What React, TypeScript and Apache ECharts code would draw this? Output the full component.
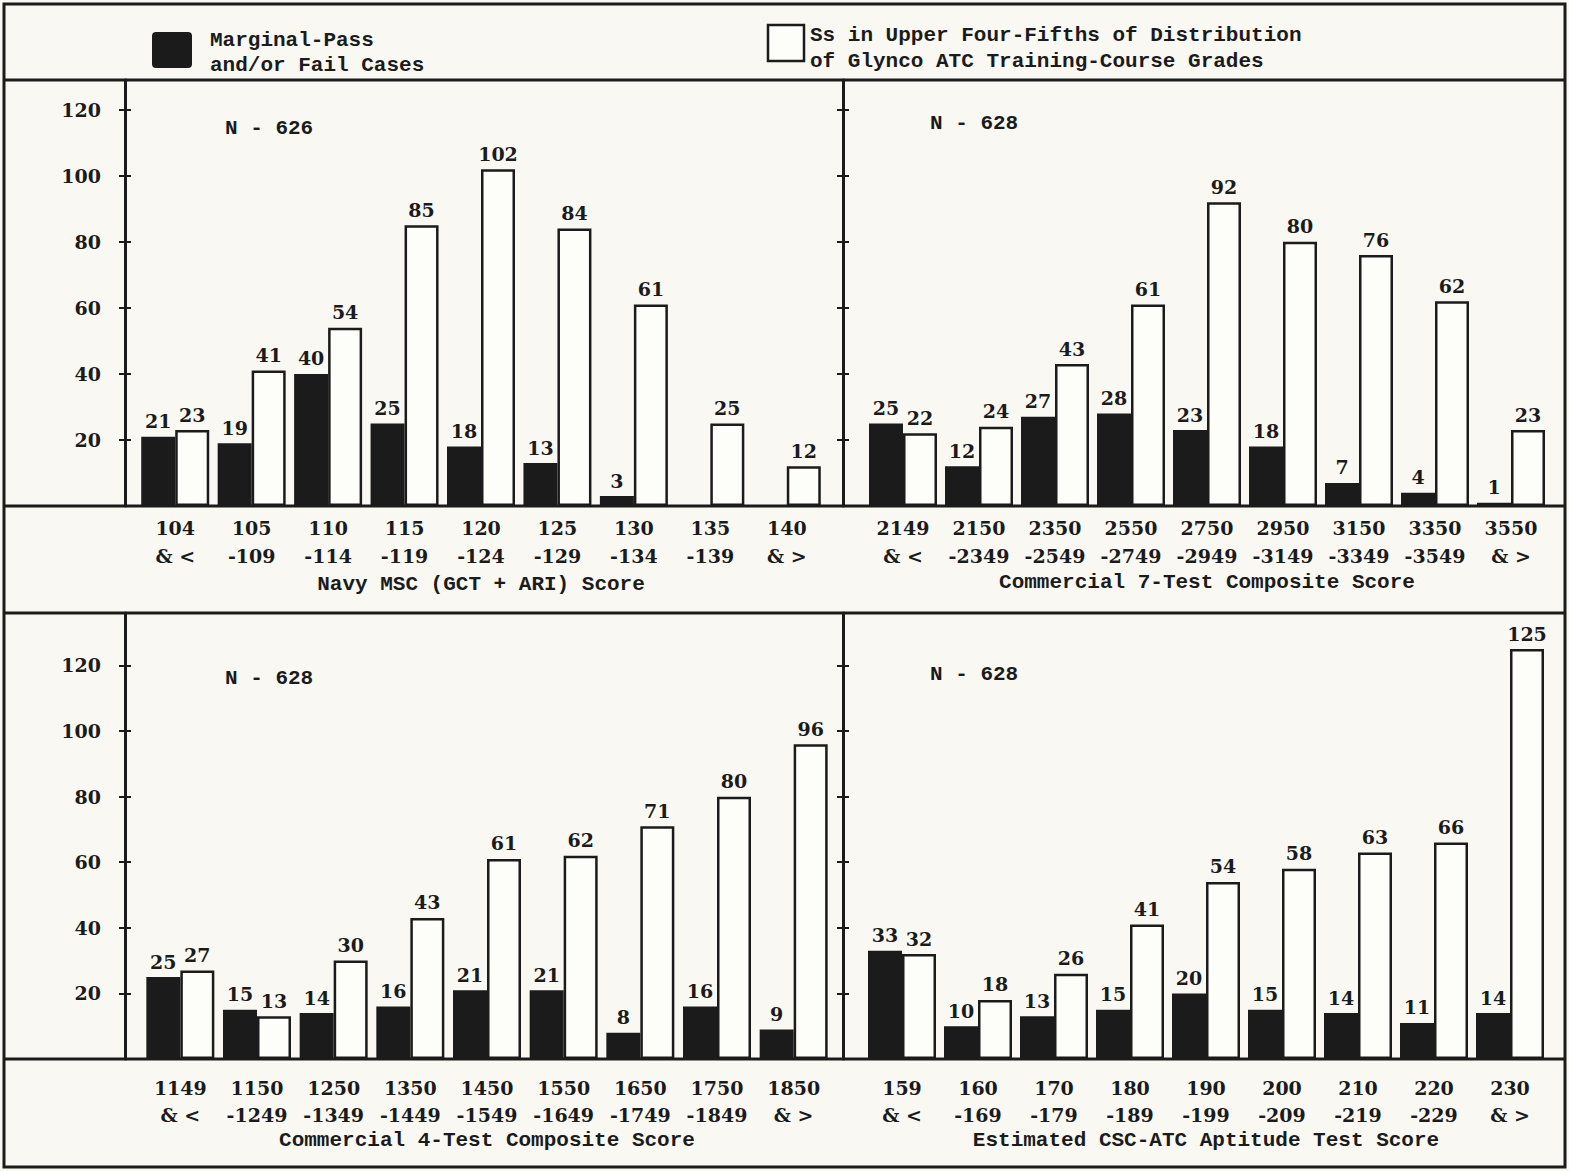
import React, { useEffect, useRef } from "react";
import * as echarts from "echarts";

// ---------- data ----------
const msCats = ["104\n& <", "105\n-109", "110\n-114", "115\n-119", "120\n-124", "125\n-129", "130\n-134", "135\n-139", "140\n& >"];
const msFail = [21, 19, 40, 25, 18, 13, 3, null, null];
const msUpper = [23, 41, 54, 85, 102, 84, 61, 25, 12];

const c7Cats = ["2149\n& <", "2150\n-2349", "2350\n-2549", "2550\n-2749", "2750\n-2949", "2950\n-3149", "3150\n-3349", "3350\n-3549", "3550\n& >"];
const c7Fail = [25, 12, 27, 28, 23, 18, 7, 4, 1];
const c7Upper = [22, 24, 43, 61, 92, 80, 76, 62, 23];

const c4Cats = ["1149\n& <", "1150\n-1249", "1250\n-1349", "1350\n-1449", "1450\n-1549", "1550\n-1649", "1650\n-1749", "1750\n-1849", "1850\n& >"];
const c4Fail = [25, 15, 14, 16, 21, 21, 8, 16, 9];
const c4Upper = [27, 13, 30, 43, 61, 62, 71, 80, 96];

const cscCats = ["159\n& <", "160\n-169", "170\n-179", "180\n-189", "190\n-199", "200\n-209", "210\n-219", "220\n-229", "230\n& >"];
const cscFail = [33, 10, 13, 15, 20, 15, 14, 11, 14];
const cscUpper = [32, 18, 26, 41, 54, 58, 63, 66, 125];

const yTickLabels = [20, 40, 60, 80, 100, 120];

const panelTitles = [
  "Navy MSC (GCT + ARI) Score",
  "Commercial 7-Test Composite Score",
  "Commercial 4-Test Composite Score",
  "Estimated CSC-ATC Aptitude Test Score",
];
const panelN = ["N - 626", "N - 628", "N - 628", "N - 628"];

const failName = "Marginal-Pass\nand/or Fail Cases";
const upperName = "Ss in Upper Four-Fifths of Distribution\nof Glynco ATC Training-Course Grades";

// ---------- styling / layout ----------
const INK = "#1b1b1b";
const PAPER = "#f9f8f3";
const FONT_NUM = '"DejaVu Serif", "Liberation Serif", serif';
const FONT_TXT = '"Liberation Mono", "DejaVu Sans Mono", monospace';
const NUM_SIZE = 19;

const panels = [
  { cats: msCats, fail: msFail, upper: msUpper, grid: { left: 137, top: 80, width: 688, height: 426 }, max: 129, offset: 12, labels: true, margin: 8, lh: 28, nameGap: 68 },
  { cats: c7Cats, fail: c7Fail, upper: c7Upper, grid: { left: 865, top: 80, width: 684, height: 426 }, max: 129, offset: 22, labels: false, margin: 8, lh: 28, nameGap: 66 },
  { cats: c4Cats, fail: c4Fail, upper: c4Upper, grid: { left: 142, top: 613, width: 690, height: 446 }, max: 136, offset: 17, labels: true, margin: 15, lh: 27, nameGap: 71 },
  { cats: cscCats, fail: cscFail, upper: cscUpper, grid: { left: 864, top: 613, width: 684, height: 446 }, max: 136, offset: 21, labels: false, margin: 15, lh: 27, nameGap: 71 },
];

const nPos = [
  { x: 225, y: 128 },
  { x: 930, y: 123 },
  { x: 225, y: 678 },
  { x: 930, y: 674 },
];

function buildOption() {
  const grid: any[] = [];
  const xAxis: any[] = [];
  const yAxis: any[] = [];
  const series: any[] = [];

  panels.forEach((p, i) => {
    grid.push({ ...p.grid, containLabel: false });
    xAxis.push({
      type: "category",
      gridIndex: i,
      data: p.cats,
      axisLine: { show: false },
      axisTick: { show: false },
      axisLabel: {
        interval: 0,
        margin: p.margin,
        fontFamily: FONT_NUM,
        fontSize: NUM_SIZE,
        fontWeight: "bold",
        color: INK,
        lineHeight: p.lh,
      },
      name: panelTitles[i],
      nameLocation: "middle",
      nameGap: p.nameGap,
      nameTextStyle: { fontFamily: FONT_TXT, fontSize: 21, fontWeight: "bold", color: INK },
    });
    const common = {
      type: "value",
      gridIndex: i,
      min: 0,
      max: p.max,
      interval: 20,
      position: "left",
      offset: p.offset,
      splitLine: { show: false },
    };
    yAxis.push({
      ...common,
      axisLine: { show: true, lineStyle: { color: INK, width: 3 } },
      axisTick: { show: true, inside: false, length: 6, lineStyle: { color: INK, width: 2 } },
      axisLabel: {
        show: p.labels,
        margin: 24,
        fontFamily: FONT_NUM,
        fontSize: NUM_SIZE,
        fontWeight: "bold",
        color: INK,
        formatter: (v: number) => (yTickLabels.indexOf(v) >= 0 ? String(v) : ""),
      },
    });
    yAxis.push({
      ...common,
      axisLine: { show: false },
      axisTick: { show: true, inside: true, length: 6, lineStyle: { color: INK, width: 2 } },
      axisLabel: { show: false },
    });
    const labelStyle = {
      show: true,
      position: "top",
      distance: 6,
      fontFamily: FONT_NUM,
      fontSize: NUM_SIZE,
      fontWeight: "bold",
      color: INK,
    };
    series.push({
      type: "bar",
      name: failName,
      xAxisIndex: i,
      yAxisIndex: i * 2,
      data: p.fail,
      barWidth: 34,
      barGap: "0%",
      itemStyle: { color: INK },
      label: labelStyle,
    });
    series.push({
      type: "bar",
      name: upperName,
      xAxisIndex: i,
      yAxisIndex: i * 2,
      data: p.upper,
      barWidth: 34,
      barGap: "0%",
      itemStyle: { color: "#fdfdf9", borderColor: INK, borderWidth: 2.5 },
      label: labelStyle,
    });
  });

  const lineStyle = { stroke: INK, lineWidth: 3 };
  const graphic: any[] = [
    { type: "rect", shape: { x: 4, y: 4, width: 1561, height: 1163 }, style: { fill: "none", stroke: INK, lineWidth: 3 }, z: 100 },
    { type: "line", shape: { x1: 4, y1: 80, x2: 1565, y2: 80 }, style: lineStyle, z: 100 },
    { type: "line", shape: { x1: 4, y1: 506, x2: 1565, y2: 506 }, style: lineStyle, z: 100 },
    { type: "line", shape: { x1: 4, y1: 613, x2: 1565, y2: 613 }, style: lineStyle, z: 100 },
    { type: "line", shape: { x1: 4, y1: 1059, x2: 1565, y2: 1059 }, style: lineStyle, z: 100 },
    // legend
    { type: "rect", shape: { x: 152, y: 32, width: 40, height: 36, r: 4 }, style: { fill: INK } },
    {
      type: "text",
      x: 210,
      y: 28,
      style: { text: failName, font: `bold 21px ${FONT_TXT}`, fill: INK, lineHeight: 25 },
    },
    { type: "rect", shape: { x: 768, y: 25, width: 36, height: 36 }, style: { fill: "#fdfdf9", stroke: INK, lineWidth: 2.5 } },
    {
      type: "text",
      x: 810,
      y: 22,
      style: { text: upperName, font: `bold 21px ${FONT_TXT}`, fill: INK, lineHeight: 26 },
    },
  ];
  panelN.forEach((t, i) => {
    graphic.push({
      type: "text",
      x: nPos[i].x,
      y: nPos[i].y,
      style: { text: t, font: `bold 21px ${FONT_TXT}`, fill: INK, verticalAlign: "middle" },
    });
  });

  return {
    animation: false,
    backgroundColor: PAPER,
    grid,
    xAxis,
    yAxis,
    series,
    graphic,
  };
}

export default function App() {
  const ref = useRef<HTMLDivElement>(null);
  useEffect(() => {
    if (!ref.current) return;
    const chart = echarts.init(ref.current, null, { renderer: "svg" });
    chart.setOption(buildOption() as any);
    return () => chart.dispose();
  }, []);
  return (
    <div
      ref={ref}
      style={{ position: "absolute", left: 0, top: 0, width: 1569, height: 1171, background: PAPER }}
    />
  );
}
